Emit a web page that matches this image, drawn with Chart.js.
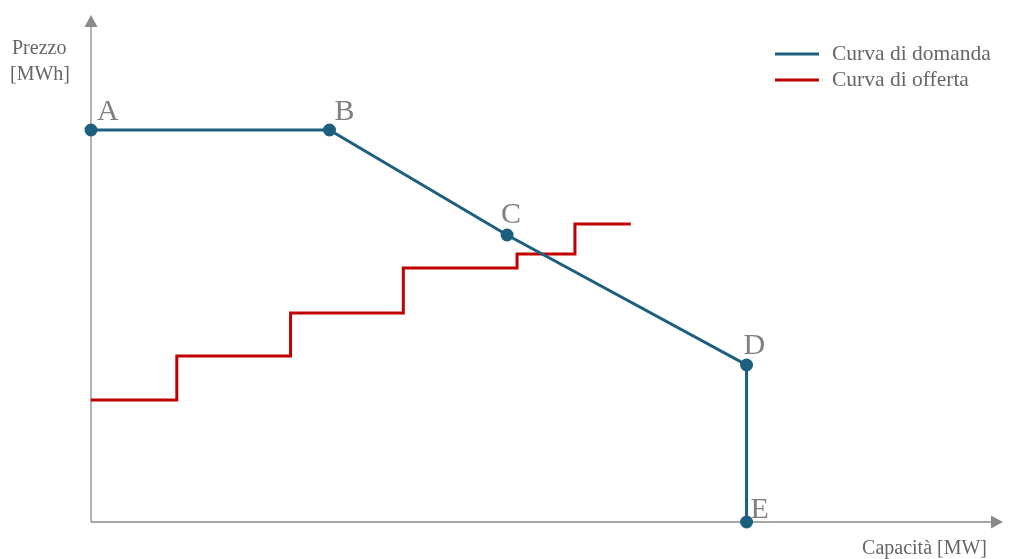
<!DOCTYPE html>
<html>
<head>
<meta charset="utf-8">
<script src="https://cdn.jsdelivr.net/npm/chart.js@4.4.1/dist/chart.umd.min.js"></script>
<style>
  html, body { margin: 0; padding: 0; background: #fff; }
  #wrap { width: 1011px; height: 559px; }
</style>
</head>
<body>
<div id="wrap"><canvas id="chart"></canvas></div>
<script>
// Demand curve corners (x = capacity, y = price, arbitrary units)
const demandLabels = ['A', 'B', 'C', 'D', 'E'];
const demandX = [0, 239, 417, 657, 657];
const demandY = [392, 392, 287, 157, 0];

// Supply step curve
const supplyX = [0, 86, 86, 200, 200, 313, 313, 427, 427, 485, 485, 541];
const supplyY = [122, 122, 166, 166, 209, 209, 254, 254, 268, 268, 298, 298];

const seriesNames = ['Curva di domanda', 'Curva di offerta'];

const blue = '#1d5f7e';
const red = '#c00000';
const grey = '#8a8a8a';
const serif = '"Liberation Serif", "DejaVu Serif", serif';

// label offsets from each point (px)
const labelDx = [6, 5, -6, -3, 4];
const labelDy = [-10, -10, -12, -11, -4];

const toPoints = (xs, ys) => xs.map((x, i) => ({ x: x, y: ys[i] }));

// axes with arrow heads, under the curves
const axesPlugin = {
    id: 'axes',
    beforeDatasetsDraw(chart) {
        const { ctx, chartArea: a } = chart;
        ctx.save();
        ctx.strokeStyle = grey;
        ctx.fillStyle = grey;
        ctx.lineWidth = 1.3;
        ctx.beginPath();
        ctx.moveTo(a.left, a.bottom);
        ctx.lineTo(a.left, a.top + 8);
        ctx.moveTo(a.left, a.bottom);
        ctx.lineTo(a.right - 8, a.bottom);
        ctx.stroke();
        ctx.beginPath();
        ctx.moveTo(a.left, a.top);
        ctx.lineTo(a.left - 6.5, a.top + 12);
        ctx.lineTo(a.left + 6.5, a.top + 12);
        ctx.closePath();
        ctx.fill();
        ctx.beginPath();
        ctx.moveTo(a.right, a.bottom);
        ctx.lineTo(a.right - 12, a.bottom - 6.5);
        ctx.lineTo(a.right - 12, a.bottom + 6.5);
        ctx.closePath();
        ctx.fill();
        ctx.restore();
    }
};

const textPlugin = {
    id: 'texts',
    afterDatasetsDraw(chart) {
        const { ctx, scales } = chart;
        ctx.save();

        // axis titles
        ctx.fillStyle = '#666';
        ctx.font = '20px ' + serif;
        ctx.textAlign = 'left';
        ctx.textBaseline = 'alphabetic';
        ctx.fillText('Prezzo', 12, 54);
        ctx.fillText('[MWh]', 10, 80);
        ctx.textAlign = 'right';
        ctx.fillText('Capacità [MW]', 987, 554);

        // point letters
        ctx.fillStyle = '#808080';
        ctx.font = '30px ' + serif;
        ctx.textAlign = 'left';
        demandLabels.forEach((l, i) => {
            const px = scales.x.getPixelForValue(demandX[i]);
            const py = scales.y.getPixelForValue(demandY[i]);
            ctx.fillText(l, px + labelDx[i], py + labelDy[i]);
        });

        // legend
        ctx.font = '21.5px ' + serif;
        ctx.fillStyle = '#666';
        [blue, red].forEach((c, i) => {
            const y = 54 + i * 26;
            ctx.strokeStyle = c;
            ctx.lineWidth = 3;
            ctx.beginPath();
            ctx.moveTo(775, y);
            ctx.lineTo(819, y);
            ctx.stroke();
            ctx.textBaseline = 'middle';
            ctx.fillText(seriesNames[i], 832, y);
        });
        ctx.restore();
    }
};

new Chart(document.getElementById('chart'), {
    type: 'scatter',
    data: {
        datasets: [
            {
                label: seriesNames[0],
                data: toPoints(demandX, demandY),
                showLine: true,
                borderColor: blue,
                backgroundColor: blue,
                borderWidth: 3,
                pointRadius: 5,
                pointHoverRadius: 5,
                clip: false
            },
            {
                label: seriesNames[1],
                data: toPoints(supplyX, supplyY),
                showLine: true,
                borderColor: red,
                backgroundColor: red,
                borderWidth: 3,
                pointRadius: 0,
                clip: false
            }
        ]
    },
    options: {
        responsive: true,
        maintainAspectRatio: false,
        animation: false,
        layout: { padding: { left: 91, right: 6, top: 15, bottom: 37 } },
        scales: {
            x: { display: false, min: 0, max: 914 },
            y: { display: false, min: 0, max: 507 }
        },
        plugins: { legend: { display: false }, tooltip: { enabled: false } }
    },
    plugins: [axesPlugin, textPlugin]
});
</script>
</body>
</html>
